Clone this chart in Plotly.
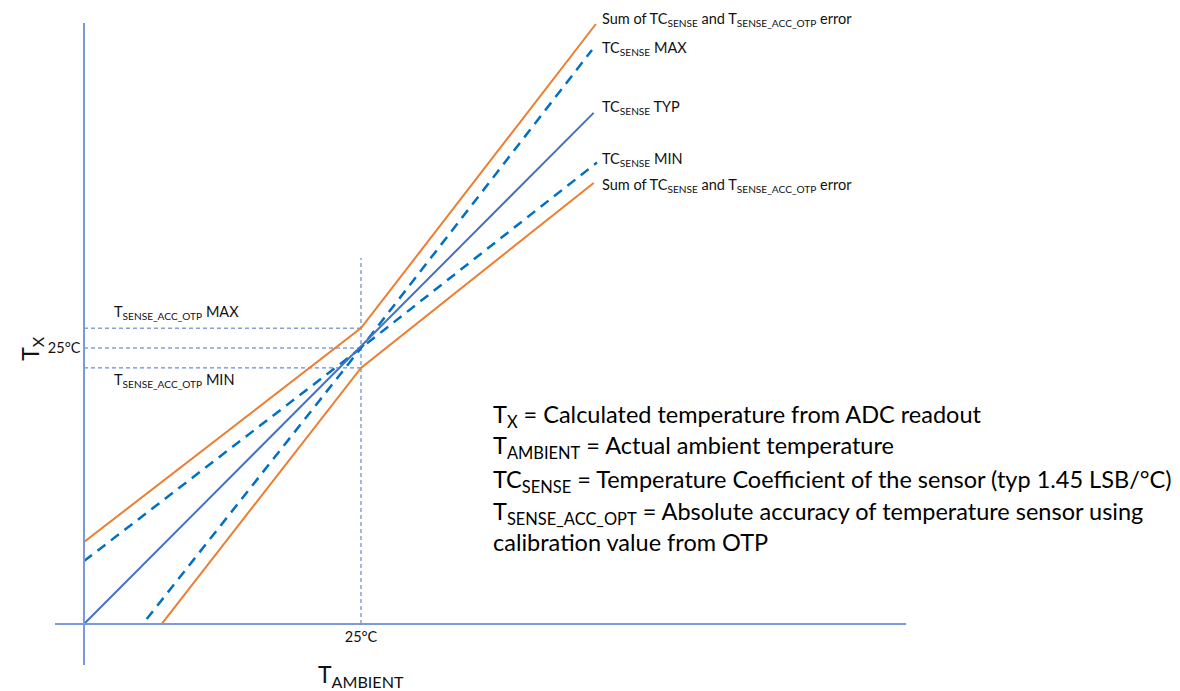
import plotly.graph_objects as go

# NOTE: values, in chart units (25 = 25°C on both axes)
typ_x = [0, 46]
typ_y = [0, 46.3]
max_x = [5.66, 25, 45.85]
max_y = [0.45, 25, 52.0]
min_x = [0, 25, 46.3]
min_y = [5.7, 25, 41.8]
err_hi_x = [0, 25, 46.2]
err_hi_y = [7.43, 26.8, 54.35]
err_lo_x = [7.0, 25, 46.0]
err_lo_y = [0, 23.2, 39.95]

t_ref = 25
acc_max = 26.8
acc_min = 23.2
marker_top = 33.15

label_texts = ["Sum of TC<sub>SENSE</sub> and T<sub>SENSE_ACC_OTP</sub> error",
               "TC<sub>SENSE</sub> MAX",
               "TC<sub>SENSE</sub> TYP",
               "TC<sub>SENSE</sub> MIN",
               "Sum of TC<sub>SENSE</sub> and T<sub>SENSE_ACC_OTP</sub> error"]
label_y = [54.75, 52.15, 46.75, 42.05, 39.75]

note_lines = ["T<sub>X</sub> = Calculated temperature from ADC readout",
              "T<sub>AMBIENT</sub> = Actual ambient temperature",
              "TC<sub>SENSE</sub> = Temperature Coefficient of the sensor (typ 1.45 LSB/°C)",
              "T<sub>SENSE_ACC_OPT</sub> = Absolute accuracy of temperature sensor using",
              "calibration value from OTP"]
note_y = [18.8, 16.0, 13.0, 10.1, 7.4]

x_range = [-2.617, 74.19]
y_range = [-3.71, 54.44]

orange = "#ED7D31"
blue = "#4472C4"
dash_blue = "#0070C0"
axis_blue = "#7A9BDB"
font = "Lato"


def y_paper(y):
    return (y - y_range[0]) / (y_range[1] - y_range[0])


def x_paper(x):
    return (x - x_range[0]) / (x_range[1] - x_range[0])


fig = go.Figure()

# NOTE: thin dashed guides at 25°C and accuracy limits
for yv in [acc_max, t_ref, acc_min]:
    fig.add_trace(go.Scatter(x=[0, t_ref], y=[yv, yv], mode="lines",
                             line=dict(color=blue, width=1, dash="4px,3px")))
fig.add_trace(go.Scatter(x=[t_ref, t_ref], y=[0, marker_top], mode="lines",
                         line=dict(color=blue, width=1, dash="4px,3px")))

fig.add_trace(go.Scatter(x=err_hi_x, y=err_hi_y, mode="lines",
                         line=dict(color=orange, width=2)))
fig.add_trace(go.Scatter(x=err_lo_x, y=err_lo_y, mode="lines",
                         line=dict(color=orange, width=2)))
fig.add_trace(go.Scatter(x=max_x, y=max_y, mode="lines",
                         line=dict(color=dash_blue, width=2.5, dash="10px,7px")))
fig.add_trace(go.Scatter(x=min_x, y=min_y, mode="lines",
                         line=dict(color=dash_blue, width=2.5, dash="10px,7px")))
fig.add_trace(go.Scatter(x=typ_x, y=typ_y, mode="lines",
                         line=dict(color=blue, width=2)))

for txt, yv in zip(label_texts, label_y):
    fig.add_annotation(x=46.6, y=y_paper(yv), yref="paper", text=txt,
                       showarrow=False, xanchor="left", yanchor="middle",
                       font=dict(size=14.5, color="#111"))

for txt, yv in zip(note_lines, note_y):
    fig.add_annotation(x=36.7, y=yv, text=txt, showarrow=False,
                       xanchor="left", font=dict(size=23.5, color="#000"))

fig.add_annotation(x=2.5, y=28.2, text="T<sub>SENSE_ACC_OTP</sub> MAX",
                   showarrow=False, xanchor="left", font=dict(size=14.5, color="#111"))
fig.add_annotation(x=2.5, y=22.1, text="T<sub>SENSE_ACC_OTP</sub> MIN",
                   showarrow=False, xanchor="left", font=dict(size=14.5, color="#111"))

# NOTE: axis titles
fig.add_annotation(x=x_paper(-4.8), xref="paper", y=t_ref, text="T<sub>X</sub>",
                   xanchor="center", yanchor="middle",
                   textangle=-90, showarrow=False, font=dict(size=23, color="#111"))
fig.add_annotation(x=t_ref, y=y_paper(-4.7), yref="paper", text="T<sub>AMBIENT</sub>",
                   xanchor="center", yanchor="middle",
                   showarrow=False, font=dict(size=23, color="#111"))

# NOTE: page body has an 8px margin, so the margins are shifted by that
fig.update_layout(width=1180, height=691, showlegend=False,
                  plot_bgcolor="white", paper_bgcolor="white",
                  font_family=font,
                  margin=dict(l=47, r=282, t=15, b=34))

fig.update_xaxes(range=x_range, anchor="free", position=0.0639,
                 showline=True, linecolor=axis_blue, linewidth=1.5,
                 showgrid=False, zeroline=False, ticks="",
                 tickvals=[t_ref], ticktext=["25°C"],
                 tickfont=dict(size=14.5, color="#111"))
fig.update_yaxes(range=y_range, anchor="free", position=0.0341,
                 showline=True, linecolor=axis_blue, linewidth=1.5,
                 showgrid=False, zeroline=False, ticks="",
                 tickvals=[t_ref], ticktext=["25°C"],
                 tickfont=dict(size=14.5, color="#111"))

fig.write_html("out.html")
